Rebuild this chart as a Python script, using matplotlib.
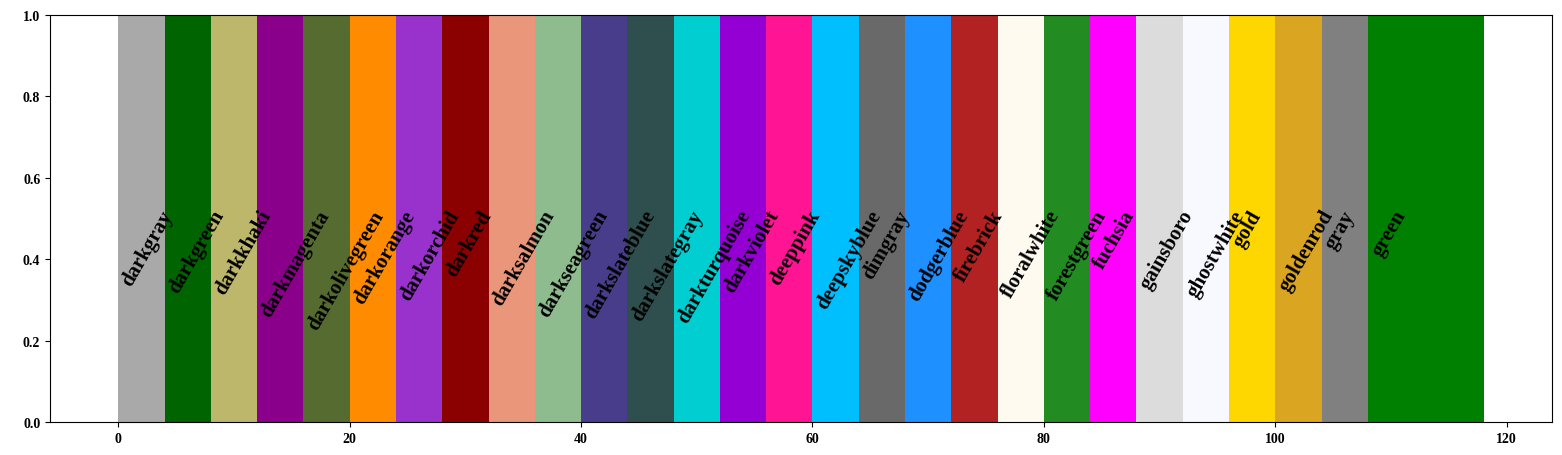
import matplotlib
matplotlib.use("Agg")
import matplotlib.pyplot as plt

# named colours shown as bars, one label each
color_names = [
    "darkgray", "darkgreen", "darkkhaki", "darkmagenta", "darkolivegreen",
    "darkorange", "darkorchid", "darkred", "darksalmon", "darkseagreen",
    "darkslateblue", "darkslategray", "darkturquoise", "darkviolet", "deeppink",
    "deepskyblue", "dimgray", "dodgerblue", "firebrick", "floralwhite",
    "forestgreen", "fuchsia", "gainsboro", "ghostwhite", "gold",
    "goldenrod", "gray", "green",
]
bar_starts = [4 * i for i in range(len(color_names))]
bar_widths = [4] * (len(color_names) - 1) + [10]
bar_heights = [1] * len(color_names)

plt.rcParams["font.family"] = ["Liberation Serif", "DejaVu Serif"]
plt.rcParams["font.weight"] = "bold"

fig = plt.figure(figsize=(15.62, 4.56), dpi=100)
ax = fig.add_axes([0.032, 0.072, 0.9615, 0.893])

ax.bar(bar_starts, bar_heights, width=bar_widths, align="edge", color=color_names)
for x, name in zip(bar_starts, color_names):
    ax.text(x, 0.53, name, rotation=60, va="top", fontsize=15, fontweight="bold")

ax.set_ylim(0, 1)
ax.tick_params(labelsize=10)
for lab in ax.get_xticklabels() + ax.get_yticklabels():
    lab.set_fontweight("bold")

fig.savefig("out.png", dpi=100)
